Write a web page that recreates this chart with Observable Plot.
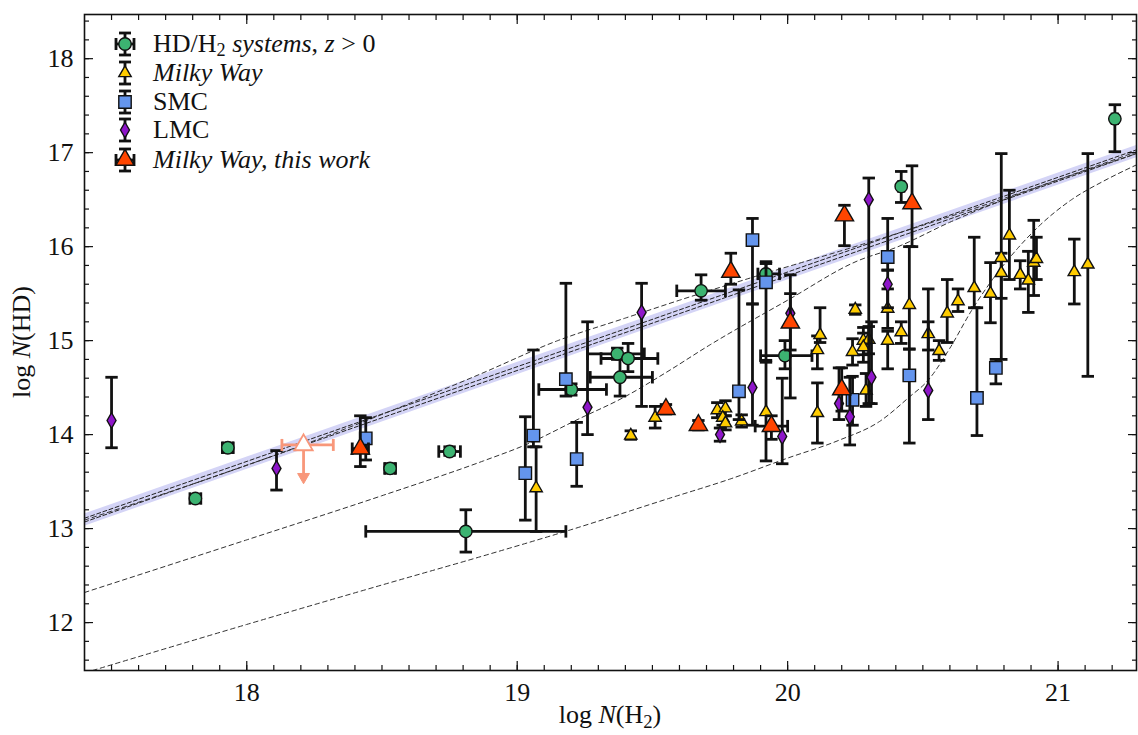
<!DOCTYPE html>
<html><head><meta charset="utf-8">
<script src="https://cdn.jsdelivr.net/npm/d3@7"></script>
<script src="https://cdn.jsdelivr.net/npm/@observablehq/plot@0.6"></script>
<style>
body{margin:0;background:#fff;}
#wrap{position:relative;width:1138px;height:735px;font-family:"Liberation Serif","Times New Roman",serif;color:#111;}
#wrap svg text{font-family:"Liberation Serif","Times New Roman",serif !important;}
.ov{position:absolute;white-space:nowrap;font-size:26px;line-height:30px;}
.ov sub{font-size:0.72em;vertical-align:-0.28em;line-height:0;}
.row{position:absolute;left:105px;height:24px;line-height:24px;display:flex;align-items:center;font-size:26px;white-space:nowrap;}
.row svg{width:40px;height:24px;margin-right:8px;overflow:visible;}
.row span{display:inline-block;height:24px;line-height:24px;}
.row sub{font-size:0.7em;vertical-align:-0.2em;line-height:0;}
</style></head><body><div id="wrap"></div>
<script>
// ---------------- data ----------------
const xTicks = [18, 19, 20, 21];
const yTicks = [12, 13, 14, 15, 16, 17, 18];
const xMinorTicks = d3.range(175, 213).map(i => i / 10);
const yMinorTicks = d3.range(58, 93).map(i => i / 5);

// [log N(H2), log N(HD), x low, x high, y low, y high]
const highZ = [
  [17.81, 13.32, 17.79, 17.83, 13.29, 13.35],
  [17.93, 13.86, 17.91, 17.95, 13.81, 13.91],
  [18.53, 13.64, 18.51, 18.55, 13.59, 13.69],
  [18.75, 13.82, 18.71, 18.79, 13.78, 13.87],
  [18.81, 12.97, 18.44, 19.18, 12.75, 13.20],
  [19.20, 14.48, 19.08, 19.33, 14.42, 14.54],
  [19.37, 14.86, 19.26, 19.47, 14.80, 14.92],
  [19.41, 14.81, 19.31, 19.52, 14.67, 14.97],
  [19.38, 14.61, 19.27, 19.50, 14.41, 14.81],
  [19.68, 15.53, 19.59, 19.77, 15.43, 15.70],
  [19.92, 15.71, 19.89, 19.97, 15.62, 15.84],
  [19.99, 14.84, 19.90, 20.09, 14.70, 15.00],
  [20.42, 16.64, 20.41, 20.43, 16.47, 16.80],
  [21.21, 17.36, 21.20, 21.22, 17.01, 17.51]
];
const milkyWay = [
  [19.07, 13.43, null, null, 12.97, 13.87],
  [19.42, 13.99, null, null, 13.95, 14.04],
  [19.51, 14.18, null, null, 14.07, 14.30],
  [19.74, 14.26, null, null, 14.18, 14.34],
  [19.77, 14.28, null, null, 14.20, 14.36],
  [19.76, 14.18, null, null, 14.10, 14.26],
  [19.77, 14.12, null, null, 14.05, 14.20],
  [19.83, 14.14, null, null, 14.08, 14.21],
  [19.92, 14.24, null, null, 13.72, 14.79],
  [20.11, 14.23, null, null, 13.91, 14.55],
  [20.12, 15.06, null, null, 14.98, 15.35],
  [20.11, 14.90, null, null, 14.70, 15.05],
  [20.25, 15.33, null, null, 15.28, 15.38],
  [20.24, 14.88, null, null, 14.74, 15.02],
  [20.28, 15.00, null, null, 14.85, 15.14],
  [20.30, 15.01, null, null, 14.86, 15.15],
  [20.28, 14.93, null, null, 14.77, 15.08],
  [20.29, 14.47, null, null, 14.30, 14.65],
  [20.37, 15.34, null, null, 15.13, 15.55],
  [20.37, 15.00, null, null, 14.70, 15.10],
  [20.42, 15.09, null, null, 14.97, 15.20],
  [20.45, 15.38, null, null, 14.91, 16.00],
  [20.52, 15.07, null, null, 14.90, 15.20],
  [20.56, 14.89, null, null, 14.79, 15.00],
  [20.59, 15.29, null, null, 14.98, 15.65],
  [20.63, 15.42, null, null, 15.31, 15.55],
  [20.69, 15.56, null, null, 15.35, 16.10],
  [20.75, 15.50, null, null, 15.19, 15.83],
  [20.79, 15.88, null, null, 14.80, 16.99],
  [20.79, 15.72, null, null, 15.45, 15.93],
  [20.82, 16.12, null, null, 15.65, 16.60],
  [20.86, 15.70, null, null, 15.55, 15.85],
  [20.89, 15.64, null, null, 15.30, 15.95],
  [20.91, 15.83, null, null, 15.48, 16.28],
  [20.92, 15.87, null, null, 15.65, 16.10],
  [21.06, 15.73, null, null, 15.39, 16.08],
  [21.11, 15.81, null, null, 14.62, 16.99]
];
const smc = [
  [18.44, 13.96, null, null, 13.73, 14.18],
  [19.03, 13.59, null, null, 13.09, 14.19],
  [19.06, 13.99, null, null, 13.87, 14.90],
  [19.18, 14.59, null, null, 14.41, 15.61],
  [19.22, 13.74, null, null, 13.45, 14.13],
  [19.82, 14.46, null, null, 14.16, 15.54],
  [19.87, 16.07, null, null, 15.39, 16.30],
  [19.92, 15.62, null, null, 14.77, 15.82],
  [20.24, 14.37, null, null, 14.10, 14.62],
  [20.37, 15.89, null, null, 15.75, 16.30],
  [20.45, 14.63, null, null, 13.91, 14.91],
  [20.70, 14.39, null, null, 13.99, 15.35],
  [20.77, 14.71, null, null, 14.54, 14.80]
];
const lmc = [
  [17.50, 14.15, null, null, 13.86, 14.61],
  [18.11, 13.64, null, null, 13.41, 13.83],
  [19.26, 14.29, null, null, 14.00, 15.20],
  [19.46, 15.30, null, null, 14.30, 15.61],
  [19.75, 14.00, null, null, 13.93, 14.07],
  [19.87, 14.50, null, null, 14.10, 15.39],
  [19.98, 13.98, null, null, 13.69, 14.60],
  [20.01, 15.29, null, null, 14.39, 15.70],
  [20.19, 14.33, null, null, 14.16, 14.71],
  [20.23, 14.19, null, null, 13.89, 14.61],
  [20.30, 16.50, null, null, 14.33, 16.73],
  [20.31, 14.61, null, null, 14.33, 15.20],
  [20.37, 15.60, null, null, 15.35, 15.75],
  [20.52, 14.47, null, null, 14.16, 15.55]
];
const thisWork = [
  [18.42, 13.85, 18.39, 18.45, 13.66, 14.20],
  [19.55, 14.27, null, null, 14.22, 14.32],
  [19.67, 14.10, null, null, 14.05, 14.15],
  [19.79, 15.73, null, null, 15.60, 15.93],
  [19.94, 14.09, 19.88, 20.00, 13.95, 14.20],
  [20.01, 15.19, null, null, 14.90, 15.50],
  [20.20, 14.48, null, null, 14.25, 14.71],
  [20.21, 16.33, null, null, 16.01, 16.44],
  [20.46, 16.46, null, null, 16.00, 16.86]
];
// upper limit: [x, y, x low, x high, arrow end]
const thisWorkLimit = [[18.21, 13.89, 18.13, 18.32, 13.55]];

// relation band (x, low, high) and dashed model curves [x, y]
const bandX = [17.40, 21.29];
const bandLow = [13.025, 16.945];
const bandHigh = [13.155, 17.075];
const bandDashA = [13.07, 16.99];
const bandDashB = [13.11, 17.03];
const curveUpper = [[17.40,13.09],[18.30,13.99],[18.60,14.33],[18.86,14.64],[19.15,15.00],[19.40,15.24],[19.60,15.43],[19.90,15.70],[20.26,16.01],[20.60,16.32],[21.29,17.01]];
const curveMiddle = [[17.40,12.32],[18.00,12.88],[18.50,13.35],[18.875,13.72],[19.03,13.89],[19.23,14.17],[19.39,14.39],[19.55,14.66],[19.71,14.95],[20.00,15.43],[20.26,15.85],[20.40,15.99],[20.60,16.26],[21.29,16.99]];
const curveLower = [[17.43,11.49],[18.00,11.98],[18.50,12.40],[18.875,12.71],[19.19,12.98],[19.56,13.32],[19.79,13.53],[20.00,13.75],[20.19,13.94],[20.34,14.14],[20.45,14.40],[20.52,14.58],[20.60,14.92],[20.68,15.32],[20.76,15.66],[20.85,15.98],[20.93,16.22],[21.05,16.50],[21.17,16.70],[21.29,16.87]];

const legendLabels = [
  'HD/H<sub>2</sub> <i>systems</i>, <i>z</i> &gt; 0',
  '<i>Milky Way</i>',
  'SMC',
  'LMC',
  '<i>Milky Way, this work</i>'
];

// ---------------- styles ----------------
const SERIF = '"Liberation Serif", "Times New Roman", serif';
const INK = "#111";
const EW = 2.8;
const styles = [
  {rows: highZ, symbol: d3.symbolCircle, fill: "#3cb371", r: 6.2},
  {rows: milkyWay, symbol: d3.symbolTriangle, fill: "#ffcc00", r: 4.6},
  {rows: smc, symbol: d3.symbolSquare, fill: "#6495ed", r: 7},
  {rows: lmc, symbol: d3.symbolDiamond, fill: "#8e16c9", r: 4.7},
  {rows: thisWork, symbol: d3.symbolTriangle, fill: "#ff4500", r: 6.8}
];

const capH = {draw(ctx, size) { const w = Math.sqrt(size / Math.PI); ctx.moveTo(-w, 0); ctx.lineTo(w, 0); }};
const capV = {draw(ctx, size) { const w = Math.sqrt(size / Math.PI); ctx.moveTo(0, -w); ctx.lineTo(0, w); }};

const toRows = arr => arr.map(([x, y, xlo, xhi, ylo, yhi]) => ({x, y, xlo, xhi, ylo, yhi}));
const toXY = arr => arr.map(([x, y]) => ({x, y}));

function groupMarks({rows, symbol, fill, r}) {
  const data = toRows(rows);
  const ye = data.filter(d => d.ylo != null);
  const xe = data.filter(d => d.xlo != null);
  const cap = {stroke: INK, strokeWidth: EW, fill: "none", r: 6.2};
  return [
    Plot.ruleX(ye, {x: "x", y1: "ylo", y2: "yhi", stroke: INK, strokeWidth: EW}),
    Plot.ruleY(xe, {y: "y", x1: "xlo", x2: "xhi", stroke: INK, strokeWidth: EW}),
    Plot.dot(ye, {x: "x", y: "ylo", symbol: capH, ...cap}),
    Plot.dot(ye, {x: "x", y: "yhi", symbol: capH, ...cap}),
    Plot.dot(xe, {x: "xlo", y: "y", symbol: capV, ...cap}),
    Plot.dot(xe, {x: "xhi", y: "y", symbol: capV, ...cap}),
    Plot.dot(data, {x: "x", y: "y", symbol, fill, stroke: INK, strokeWidth: 1.4, r})
  ];
}

const band = bandX.map((x, i) => ({x, lo: bandLow[i], hi: bandHigh[i]}));
const dashA = bandX.map((x, i) => ({x, y: bandDashA[i]}));
const dashB = bandX.map((x, i) => ({x, y: bandDashB[i]}));
const limit = thisWorkLimit.map(([x, y, xlo, xhi, yend]) => ({x, y, xlo, xhi, yend}));
const SALMON = "#f8977a";

const dashed = {x: "x", y: "y", stroke: "#333", strokeWidth: 1, strokeDasharray: "4.5,3.5", curve: "monotone-x", clip: true};

const axisCommon = {fontSize: 26, fontFamily: SERIF, label: null, strokeWidth: 1.2};

const chart = Plot.plot({
  width: 1138, height: 735,
  marginLeft: 84, marginRight: 2, marginTop: 14, marginBottom: 65,
  x: {domain: [17.40, 21.29]},
  y: {domain: [11.49, 18.47]},
  style: {fontFamily: SERIF, background: "white"},
  marks: [
    Plot.areaY(band, {x: "x", y1: "lo", y2: "hi", fill: "#d4d4f6", clip: true}),
    Plot.line(dashA, {...dashed, stroke: "#222", strokeDasharray: "4,2.5"}),
    Plot.line(dashB, {...dashed, stroke: "#222", strokeDasharray: "4,2.5"}),
    Plot.line(toXY(curveUpper), dashed),
    Plot.line(toXY(curveMiddle), dashed),
    Plot.line(toXY(curveLower), dashed),
    ...styles.flatMap(groupMarks),
    // upper limit (Milky Way, this work)
    Plot.ruleY(limit, {y: "y", x1: "xlo", x2: "xhi", stroke: SALMON, strokeWidth: EW}),
    Plot.dot(limit, {x: "xlo", y: "y", symbol: capV, r: 6, stroke: SALMON, strokeWidth: EW, fill: "none"}),
    Plot.dot(limit, {x: "xhi", y: "y", symbol: capV, r: 6, stroke: SALMON, strokeWidth: EW, fill: "none"}),
    Plot.ruleX(limit, {x: "x", y1: "y", y2: "yend", stroke: SALMON, strokeWidth: EW}),
    Plot.dot(limit, {x: "x", y: "yend", symbol: d3.symbolTriangle, rotate: 180, r: 4.4, fill: SALMON, stroke: SALMON, strokeWidth: 1}),
    Plot.dot(limit, {x: "x", y: "y", symbol: d3.symbolTriangle, r: 6.8, fill: "white", stroke: SALMON, strokeWidth: 1.8}),
    Plot.frame({stroke: INK, strokeWidth: 1.6}),
    // axes with inward ticks
    Plot.axisX({...axisCommon, ticks: xTicks, tickSize: -9, tickPadding: 21, tickFormat: d => String(d)}),
    Plot.axisX({...axisCommon, ticks: xMinorTicks, tickSize: -5, fill: "none"}),
    Plot.axisX({...axisCommon, anchor: "top", ticks: xTicks, tickSize: -9, fill: "none"}),
    Plot.axisX({...axisCommon, anchor: "top", ticks: xMinorTicks, tickSize: -5, fill: "none"}),
    Plot.axisY({...axisCommon, ticks: yTicks, tickSize: -9, tickPadding: 20, tickFormat: d => String(d)}),
    Plot.axisY({...axisCommon, ticks: yMinorTicks, tickSize: -5, fill: "none"}),
    Plot.axisY({...axisCommon, anchor: "right", ticks: yTicks, tickSize: -9, fill: "none"}),
    Plot.axisY({...axisCommon, anchor: "right", ticks: yMinorTicks, tickSize: -5, fill: "none"})
  ]
});

const wrap = document.getElementById("wrap");
wrap.appendChild(chart);

// axis titles
const xt = document.createElement("div");
xt.className = "ov";
xt.style.left = "610px"; xt.style.top = "700px"; xt.style.transform = "translateX(-50%)";
xt.innerHTML = 'log <i>N</i>(H<sub>2</sub>)';
wrap.appendChild(xt);
const yt = document.createElement("div");
yt.className = "ov";
yt.style.left = "22px"; yt.style.top = "342px"; yt.style.transform = "translate(-50%,-50%) rotate(-90deg)";
yt.innerHTML = 'log <i>N</i>(HD)';
wrap.appendChild(yt);

// legend
const legendCenters = [44, 73, 102, 130, 160];
const sym = (type, r) => d3.symbol(type, Math.PI * r * r)();
styles.forEach((s, i) => {
  const row = document.createElement("div");
  row.className = "row";
  row.style.top = (legendCenters[i] - 12) + "px";
  const both = (i === 0 || i === 4);
  let g = `<g transform="translate(20,12)" stroke="${INK}" stroke-width="${EW}" fill="none">`;
  g += `<line x1="0" y1="-11" x2="0" y2="11"/><line x1="-6" y1="-11" x2="6" y2="-11"/><line x1="-6" y1="11" x2="6" y2="11"/>`;
  if (both) g += `<line x1="-9" y1="0" x2="9" y2="0"/><line x1="-9" y1="-6" x2="-9" y2="6"/><line x1="9" y1="-6" x2="9" y2="6"/>`;
  g += `<path d="${sym(s.symbol, s.r)}" fill="${s.fill}" stroke="${INK}" stroke-width="1.4"/></g>`;
  row.innerHTML = `<svg viewBox="0 0 40 24">${g}</svg><span>${legendLabels[i]}</span>`;
  wrap.appendChild(row);
});
</script></body></html>
